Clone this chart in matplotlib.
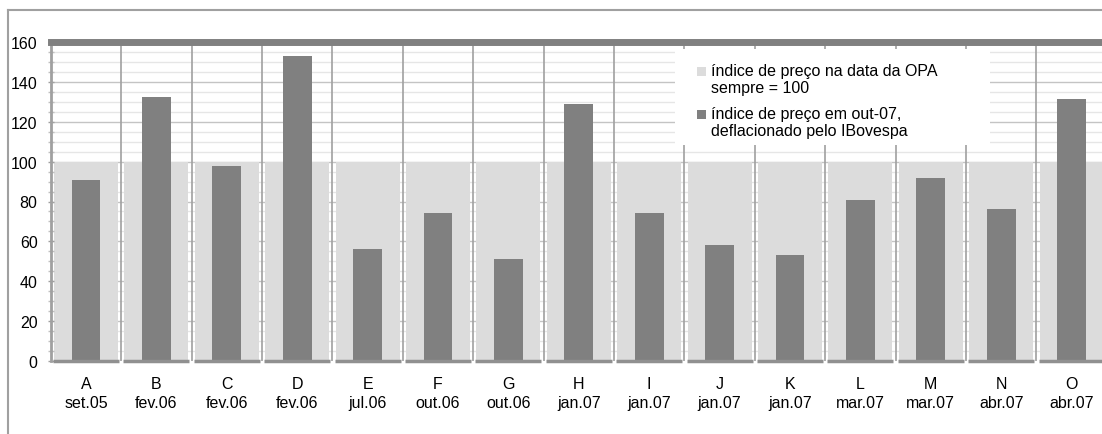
import matplotlib
matplotlib.use("Agg")
import matplotlib.pyplot as plt
from matplotlib.patches import Rectangle
from matplotlib.lines import Line2D
import numpy as np

plt.rcParams['font.family'] = ['Liberation Sans', 'DejaVu Sans']

letras = ['A', 'B', 'C', 'D', 'E', 'F', 'G', 'H', 'I', 'J', 'K', 'L', 'M', 'N', 'O']
datas = ['set.05', 'fev.06', 'fev.06', 'fev.06', 'jul.06', 'out.06', 'out.06', 'jan.07',
         'jan.07', 'jan.07', 'jan.07', 'mar.07', 'mar.07', 'abr.07', 'abr.07']
base_opa = [100] * 15
indice_out07 = [91, 132.5, 98, 153, 56, 74, 51, 129, 74, 58, 53, 81, 92, 76, 131.5]

lbl_base = 'índice de preço na data da OPA\nsempre = 100'
lbl_out07 = 'índice de preço em out-07,\ndeflacionado pelo IBovespa'

claro = '#dcdcdc'
escuro = '#808080'
fs = 11.5

fig = plt.figure(figsize=(11.02, 4.35), dpi=100)
W, H = 1102, 435
ax = fig.add_axes([50.8 / W, (H - 361.7) / H, 1 - 50.8 / W, (361.7 - 43.3) / H])

x = np.arange(len(letras))

# grade horizontal a cada 5, mais escura a cada 20
for v in np.arange(5, 160, 5):
    cor = '#c4c4c4' if v % 20 == 0 else '#e6e6e6'
    ax.axhline(v, color=cor, lw=1, zorder=0)

# separadores de categoria
for b in x[1:] - 0.5:
    ax.axvline(b, color='#a0a0a0', lw=1.2, zorder=0.5)

ax.bar(x, base_opa, width=0.91, color=claro, zorder=1)
ax.bar(x, indice_out07, width=0.41, color=escuro, zorder=2)

# faixa superior e eixo inferior
ax.axhline(160, color=escuro, lw=5, zorder=3, clip_on=False)
ax.hlines([0] * len(x), x - 0.47, x + 0.47, color='#909090', lw=2.5, zorder=3, clip_on=False)

ax.set_xlim(-0.5, (W - 86) / 70.4)
ax.set_ylim(0, 160)
for s in ['top', 'right', 'bottom']:
    ax.spines[s].set_visible(False)
ax.spines['left'].set_color('#a0a0a0')
ax.spines['left'].set_linewidth(2)

ax.set_yticks(np.arange(0, 161, 20))
ax.set_yticks(np.arange(0, 161, 5), minor=True)
ax.tick_params(axis='y', which='major', length=5, width=1, color='#a0a0a0', direction='inout',
               labelsize=fs, pad=7)
ax.tick_params(axis='y', which='minor', length=4, width=1, color='#c0c0c0', direction='inout')

ax.set_xticks(x)
ax.set_xticklabels([l + '\n' + d for l, d in zip(letras, datas)], fontsize=fs, linespacing=1.35)
ax.tick_params(axis='x', length=0, pad=11)

# moldura externa
fig.add_artist(Line2D([8 / W, 8 / W], [0, 1 - 11 / H], color='#a0a0a0', lw=1.5))
fig.add_artist(Line2D([8 / W, 1], [1 - 11 / H, 1 - 11 / H], color='#a0a0a0', lw=1.5))

# legenda (caixa branca, quadrado alinhado com a primeira linha)
def fx(px):
    return px / W

def fy(py):
    return 1 - py / H

fig.add_artist(Rectangle((fx(675), fy(146)), fx(990) - fx(675), fy(50) - fy(146),
                         transform=fig.transFigure, facecolor='white', edgecolor='none', zorder=4))
for cor, lbl, ytop in [(claro, lbl_base, 64), (escuro, lbl_out07, 107)]:
    fig.add_artist(Rectangle((fx(697), fy(ytop + 13)), fx(706) - fx(697), fy(ytop + 4) - fy(ytop + 13),
                             transform=fig.transFigure, facecolor=cor, edgecolor='none', zorder=5))
    fig.text(fx(711), fy(ytop), lbl, fontsize=fs, va='top', ha='left', linespacing=1.15, zorder=6)

fig.savefig('out.png', dpi=100)
